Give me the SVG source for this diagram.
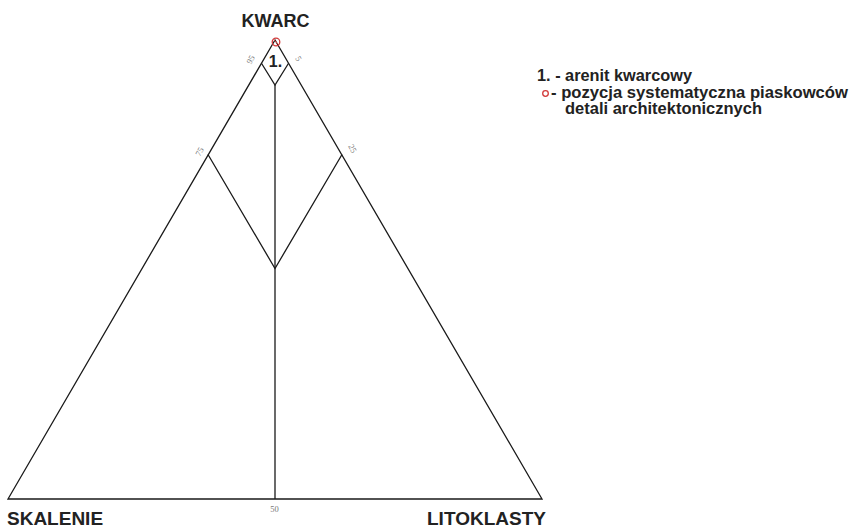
<svg xmlns="http://www.w3.org/2000/svg" width="853" height="530" viewBox="0 0 853 530">
  <style>
    .edge { fill: none; stroke: #1a1a1a; stroke-width: 1.3; stroke-linejoin: miter; }
    .pole { font-family: "Liberation Sans", Arial, sans-serif; font-weight: bold; font-size: 18px; fill: #222; }
    .tick { font-family: "Liberation Serif", "Times New Roman", serif; font-size: 8.5px; fill: #777; }
    .legend { font-family: "Liberation Sans", Arial, sans-serif; font-weight: bold; font-size: 16.5px; fill: #222; }
    .pos { fill: none; stroke: #d23a3a; stroke-width: 1.3; }
  </style>

  <!-- ternary frame: Q apex, F left, L right -->
  <g id="frame">
    <path class="edge" d="M275,40 L8,499 L542,499 Z"/>
  </g>

  <!-- field boundaries -->
  <g id="connectors">
    <path class="edge" d="M261.6,63.5 L275,85 L288.4,63.5"/>
    <path class="edge" d="M275,85 L275,499"/>
    <path class="edge" d="M208,154.5 L275,268.5 L342,154.5"/>
  </g>

  <!-- percentage ticks -->
  <g id="ticks">
    <text class="tick" transform="translate(253,61) rotate(-60)" text-anchor="middle">95</text>
    <text class="tick" transform="translate(296,60) rotate(60)" text-anchor="middle">5</text>
    <text class="tick" transform="translate(202,153) rotate(-60)" text-anchor="middle">75</text>
    <text class="tick" transform="translate(350,150) rotate(60)" text-anchor="middle">25</text>
    <text class="tick" x="274.5" y="512" text-anchor="middle">50</text>
  </g>

  <g id="node-kwarc">
    <text class="pole" x="275.5" y="27" text-anchor="middle">KWARC</text>
  </g>
  <g id="node-skalenie">
    <text class="pole" x="7" y="525" style="font-size:19px">SKALENIE</text>
  </g>
  <g id="node-litoklasty">
    <text class="pole" x="427" y="525" style="font-size:19px">LITOKLASTY</text>
  </g>

  <g id="field-1">
    <text class="pole" x="275.5" y="67" text-anchor="middle" style="font-size:16px">1.</text>
  </g>

  <g id="sample-position">
    <circle class="pos" cx="276" cy="42" r="3.8"/>
    <path d="M273.5,39.5 L278.5,44.5" stroke="#d23a3a" stroke-width="1"/>
  </g>

  <g id="legend">
    <text class="legend" x="537" y="81" textLength="155" lengthAdjust="spacingAndGlyphs">1. - arenit kwarcowy</text>
    <circle class="pos" cx="545.5" cy="93.5" r="2.8" stroke-width="1.1"/>
    <text class="legend" x="551" y="97.5" textLength="297" lengthAdjust="spacingAndGlyphs">- pozycja systematyczna piaskowców</text>
    <text class="legend" x="565" y="114" textLength="197" lengthAdjust="spacingAndGlyphs">detali architektonicznych</text>
  </g>
</svg>
